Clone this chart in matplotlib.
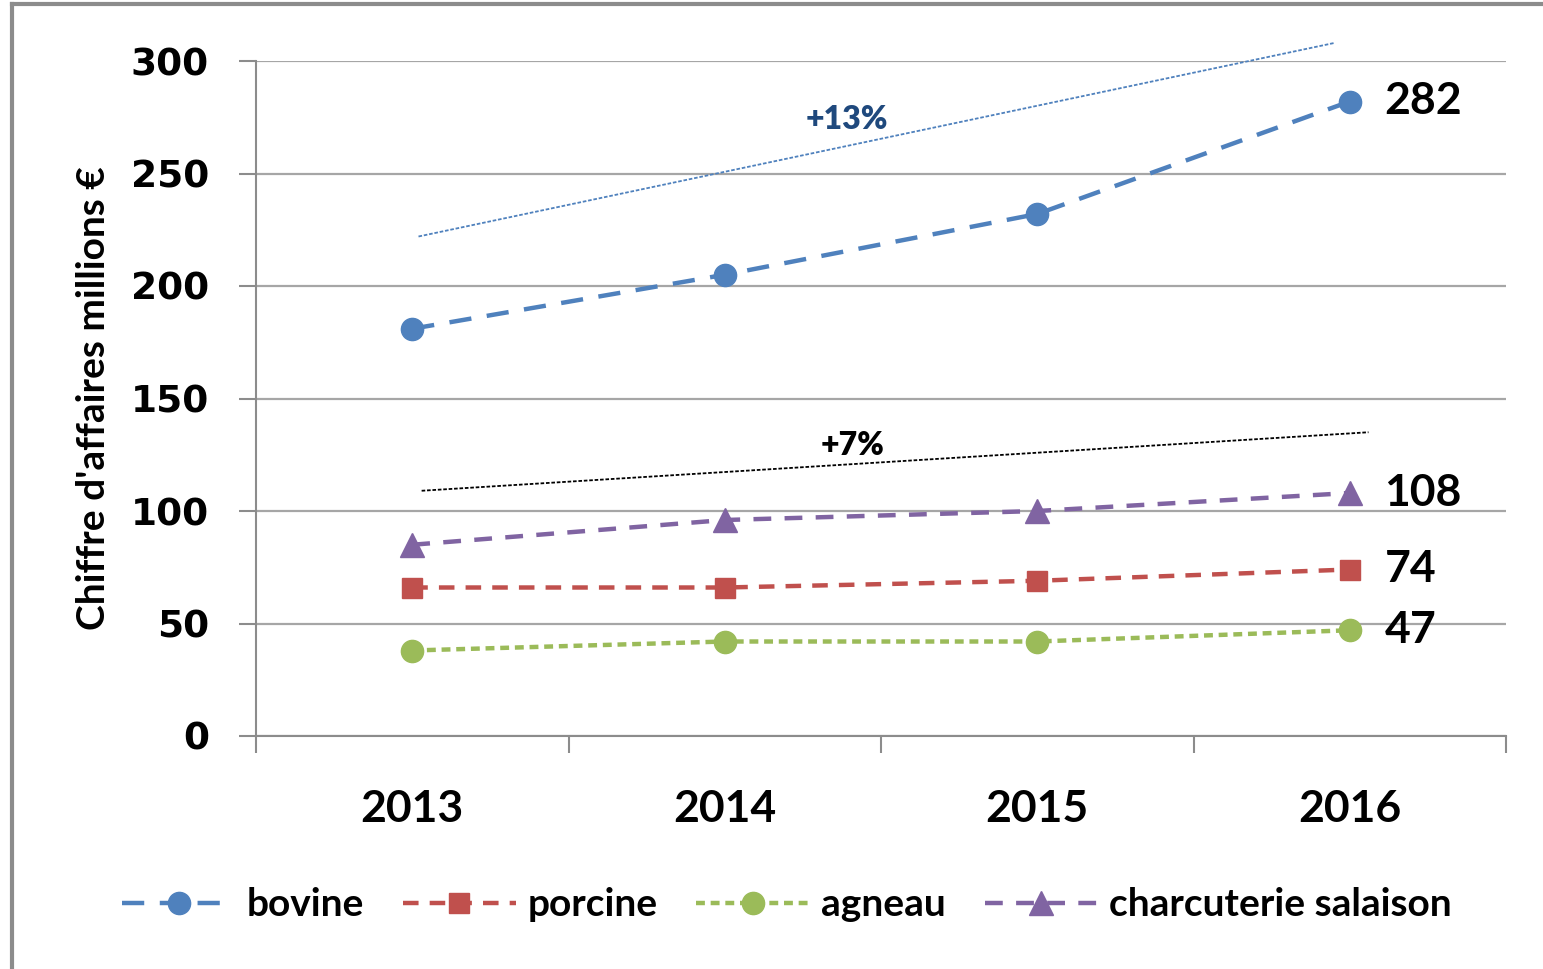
import matplotlib
matplotlib.use("Agg")
import matplotlib.pyplot as plt
from matplotlib.lines import Line2D
import numpy as np

# chiffre d'affaires, millions d'euros
years = ["2013", "2014", "2015", "2016"]
bovine = [181, 205, 232, 282]
porcine = [66, 66, 69, 74]
agneau = [38, 42, 42, 47]
charcuterie = [85, 96, 100, 108]

# tendances dessinees a la main sur le graphique
trend_bovine_x = [0.02, 2.95]
trend_bovine_y = [222, 308]
trend_autres_x = [0.03, 3.06]
trend_autres_y = [109, 135]

plt.rcParams['font.family'] = ['Lato', 'DejaVu Sans']

fig = plt.figure(figsize=(15.43, 9.69), dpi=100)
ax = fig.add_axes([256 / 1543, 1 - 736 / 969, 1250 / 1543, 675 / 969])

x = np.arange(len(years))
blue, red, green, purple = "#4F81BD", "#C0504D", "#9BBB59", "#8064A2"

ax.plot(x, bovine, color=blue, lw=3.2, dashes=(5, 3.5), marker="o", ms=16,
        label="bovine", zorder=3)
ax.plot(x, porcine, color=red, lw=3.2, dashes=(3.5, 2.5), marker="s", ms=15,
        label="porcine", zorder=3)
ax.plot(x, agneau, color=green, lw=3.2, dashes=(2, 1.3), marker="o", ms=16,
        label="agneau", zorder=3)
ax.plot(x, charcuterie, color=purple, lw=3.2, dashes=(4, 3), marker="^", ms=17,
        label="charcuterie salaison", zorder=3)

ax.plot(trend_bovine_x, trend_bovine_y, color=blue, lw=1.3, ls=(0, (2, 1)),
        clip_on=False)
ax.plot(trend_autres_x, trend_autres_y, color="black", lw=1.3, ls=(0, (2, 1)),
        clip_on=False)
ax.text(1.39, 274, "+13%", color="#1F497D", fontsize=23, fontweight="heavy",
        ha="center", va="center")
ax.text(1.41, 129, "+7%", color="black", fontsize=23, fontweight="heavy",
        ha="center", va="center")

# etiquettes de fin de serie
for serie in [bovine, charcuterie, porcine, agneau]:
    ax.annotate(str(serie[-1]), xy=(x[-1], serie[-1]), xytext=(25, 0),
                textcoords="offset points", fontsize=32, fontweight="bold",
                ha="left", va="center")

ax.set_xlim(-0.5, 3.5)
ax.set_ylim(0, 300)
ax.set_yticks(range(0, 301, 50))
ax.set_yticklabels([str(v) for v in range(0, 301, 50)], family="DejaVu Sans",
                   fontsize=27, fontweight="bold")
ax.set_xticks(x)
ax.set_xticklabels(years, fontsize=32, fontweight="bold")
ax.set_xticks(np.arange(-0.5, 4, 1), minor=True)
ax.tick_params(axis="x", which="major", length=0, pad=38)
ax.tick_params(axis="x", which="minor", length=12, width=1.5, color="#8C8C8C")
ax.tick_params(axis="y", length=12, width=1.5, color="#8C8C8C", pad=22)

ax.grid(axis="y", color="#A6A6A6", lw=1.6)
ax.set_axisbelow(True)
for side in ["top", "right"]:
    ax.spines[side].set_visible(False)
for side in ["left", "bottom"]:
    ax.spines[side].set_color("#8C8C8C")
    ax.spines[side].set_linewidth(1.5)

ax.set_ylabel("Chiffre d'affaires millions €", fontsize=28, fontweight="bold",
              labelpad=14)

handles, labels = ax.get_legend_handles_labels()
fig.legend(handles, labels, loc="center", bbox_to_anchor=(0.51, 1 - 905 / 969),
           ncol=4, frameon=False, handlelength=2.9,
           columnspacing=1.0, handletextpad=0.3,
           prop={"weight": "bold", "size": 28})

# cadre gris du graphique
fig.add_artist(Line2D([12 / 1543, 12 / 1543], [0, 1 - 4 / 969], color="#8C8C8C",
                      lw=3, transform=fig.transFigure))
fig.add_artist(Line2D([12 / 1543, 1], [1 - 4 / 969, 1 - 4 / 969], color="#8C8C8C",
                      lw=3, transform=fig.transFigure))

fig.savefig("out.png", dpi=100)
